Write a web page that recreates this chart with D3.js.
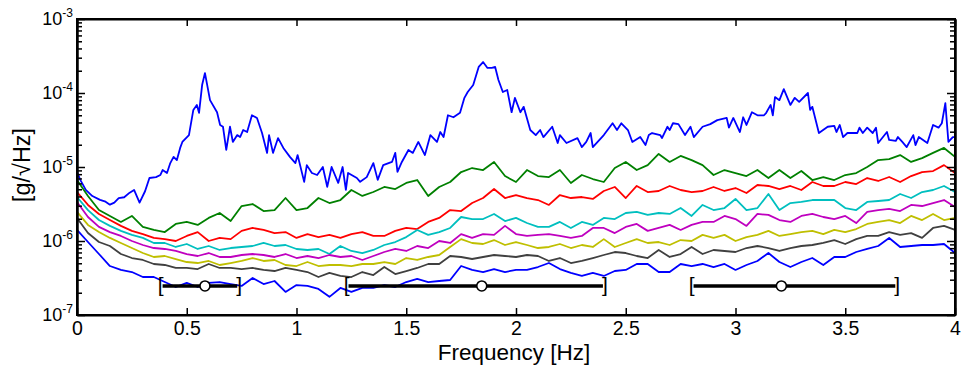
<!DOCTYPE html>
<html>
<head>
<meta charset="utf-8">
<script src="https://cdn.jsdelivr.net/npm/d3@7"></script>
<style>
  body { margin: 0; background: #fff; }
  svg { display: block; font-family: "Liberation Sans", Arial, sans-serif; }
</style>
</head>
<body>
<div id="chart"></div>
<script>
// amplitudes below are in units of 1e-6 g/sqrt(Hz)
const UNIT = 1e-6;

// shared frequency grid for the lower curves [Hz]
const freqGrid = [
  0, 0.05, 0.1, 0.15, 0.2, 0.25, 0.3, 0.35, 0.4, 0.45,
  0.5, 0.55, 0.6, 0.65, 0.7, 0.75, 0.8, 0.85, 0.9, 0.95,
  1, 1.05, 1.1, 1.15, 1.2, 1.25, 1.3, 1.35, 1.4, 1.45,
  1.5, 1.55, 1.6, 1.65, 1.7, 1.75, 1.8, 1.85, 1.9, 1.95,
  2, 2.05, 2.1, 2.15, 2.2, 2.25, 2.3, 2.35, 2.4, 2.45,
  2.5, 2.55, 2.6, 2.65, 2.7, 2.75, 2.8, 2.85, 2.9, 2.95,
  3, 3.05, 3.1, 3.15, 3.2, 3.25, 3.3, 3.35, 3.4, 3.45,
  3.5, 3.55, 3.6, 3.65, 3.7, 3.75, 3.8, 3.85, 3.9, 3.95,
  4
];

// top (blue) curve, read at its own frequencies
const topBlueFreq = [
  0, 0.015, 0.04, 0.07, 0.105, 0.13, 0.15, 0.17, 0.19, 0.215, 0.24, 0.26, 0.285, 0.31, 0.33, 0.36,
  0.38, 0.39, 0.41, 0.425, 0.44, 0.455, 0.47, 0.48, 0.51, 0.53, 0.546, 0.556, 0.57, 0.583, 0.606,
  0.638, 0.652, 0.665, 0.68, 0.697, 0.71, 0.73, 0.743, 0.757, 0.775, 0.797, 0.82, 0.843, 0.866,
  0.875, 0.893, 0.916, 0.94, 0.97, 0.995, 1.005, 1.035, 1.047, 1.07, 1.094, 1.12, 1.14, 1.16, 1.19,
  1.21, 1.225, 1.235, 1.275, 1.29, 1.32, 1.35, 1.37, 1.395, 1.435, 1.45, 1.46, 1.48, 1.51, 1.53,
  1.555, 1.585, 1.61, 1.64, 1.655, 1.67, 1.69, 1.715, 1.745, 1.765, 1.78, 1.805, 1.83, 1.85, 1.87,
  1.89, 1.905, 1.92, 1.94, 1.96, 1.98, 1.995, 2.02, 2.035, 2.065, 2.09, 2.11, 2.125, 2.165, 2.19,
  2.2, 2.23, 2.28, 2.3, 2.32, 2.34, 2.35, 2.4, 2.44, 2.46, 2.48, 2.51, 2.53, 2.566, 2.59, 2.605,
  2.62, 2.657, 2.665, 2.69, 2.7, 2.715, 2.74, 2.77, 2.795, 2.81, 2.85, 2.885, 2.917, 2.96, 2.97,
  2.99, 3.02, 3.035, 3.05, 3.075, 3.1, 3.13, 3.14, 3.16, 3.17, 3.18, 3.2, 3.22, 3.25, 3.27, 3.29,
  3.33, 3.34, 3.35, 3.38, 3.42, 3.45, 3.46, 3.475, 3.49, 3.51, 3.555, 3.565, 3.58, 3.6, 3.625,
  3.64, 3.65, 3.69, 3.7, 3.73, 3.74, 3.76, 3.78, 3.81, 3.82, 3.835, 3.874, 3.9, 3.925, 3.94,
  3.956, 3.97, 3.99, 4
];
const topBlueVal = [
  8.6, 6.7, 4.9, 4.05, 3.6, 3.4, 3.1, 3.3, 3.8, 3.9, 4.5, 4.9, 3.3, 4.7, 7.1, 7.3,
  7.8, 9.1, 8.3, 11.3, 13.7, 12.4, 18.1, 21.8, 27, 59, 69, 54, 128, 186, 80,
  55, 37, 35, 17, 35, 21.8, 27, 25.4, 31.6, 29.7, 50, 46, 28.8, 15.5,
  27, 15.5, 24.6, 18.1, 13.7, 11.3, 14.5, 6.3, 10.6, 8.3, 7.8, 10, 5.4, 10, 6.1,
  10, 4.9, 8.3, 7.1, 6.3, 7.3, 11.3, 6.7, 10.6, 11.7, 15.5, 8.6, 11.7, 17, 15.5,
  21.8, 14.5, 27, 21.8, 29.7, 25.4, 50, 47, 54, 86, 103, 128, 225, 262, 218,
  218, 225, 150, 103, 110, 55, 86, 55, 65, 31.6, 27, 31.6, 25.4, 35, 21.1,
  27, 21.1, 24.6, 18.6, 21.8, 28.8, 18.6, 27, 39, 31.6, 39, 31.6, 21.8, 25.4, 19.8, 27,
  28.8, 27, 24.6, 35, 31.6, 39, 38, 27, 35, 25.4, 35, 38, 43, 46, 34,
  46, 29.7, 47, 37, 55, 50, 50, 54, 69, 50, 88, 80, 113, 69, 86, 76,
  100, 59, 65, 28.8, 35, 36, 29.7, 37, 25.4, 28.8, 28.8, 34, 28.8, 34, 28.8,
  34, 21.1, 29.7, 23.2, 22.5, 25.4, 21.8, 18.6, 27, 19.8, 25.4, 21.1, 37, 34, 39,
  73, 21.8, 25.4, 25.4
];

const greenVal = [
  6.67, 4.06, 2.62, 2.18, 1.81, 2.18, 1.55, 1.41, 1.32, 1.70,
  1.81, 1.65, 2.05, 2.39, 1.86, 2.97, 3.16, 2.54, 2.62, 3.81,
  2.62, 2.79, 3.81, 3.26, 3.58, 4.89, 4.06, 4.59, 5.37, 5.04,
  6.08, 6.67, 4.06, 5.37, 6.27, 8.55, 9.69, 9.10, 11.7, 7.55,
  6.27, 9.10, 7.55, 7.32, 9.10, 6.08, 7.79, 6.88, 6.27, 9.69,
  11.7, 9.10, 10.6, 15.0, 11.7, 14.1, 12.4, 10.6, 7.79, 9.10,
  8.29, 7.55, 9.10, 7.10, 9.10, 7.10, 8.82, 6.67, 7.32, 6.67,
  7.79, 8.29, 10.0, 12.4, 12.8, 14.5, 11.7, 13.2, 15.5, 18.1,
  13.7
];
const redVal = [
  4.59, 3.07, 2.32, 1.92, 1.60, 1.37, 1.24, 1.10, 1.06, 1.00,
  1.17, 1.32, 1.00, 1.10, 1.06, 1.37, 1.50, 1.41, 1.28, 1.32,
  1.10, 1.24, 1.13, 1.21, 1.10, 1.24, 1.32, 1.17, 1.17, 1.37,
  1.50, 1.45, 1.81, 2.05, 2.62, 2.54, 3.26, 3.81, 5.04, 3.81,
  4.18, 3.81, 3.58, 3.07, 4.18, 3.81, 3.93, 3.70, 4.74, 5.37,
  3.81, 5.54, 4.59, 4.74, 5.54, 4.89, 4.59, 4.74, 5.37, 4.74,
  5.20, 4.45, 5.71, 5.54, 5.04, 5.54, 4.89, 6.27, 5.54, 5.54,
  6.27, 5.89, 7.10, 6.47, 7.32, 6.27, 7.55, 8.55, 8.82, 10.6,
  8.29
];
const cyanVal = [
  3.93, 2.62, 1.92, 1.60, 1.37, 1.21, 1.10, 0.940, 0.940, 0.830,
  0.911, 0.780, 0.856, 0.756, 0.804, 0.830, 0.856, 0.940, 0.856, 0.883,
  0.780, 0.756, 0.780, 0.667, 0.856, 0.733, 0.688, 0.756, 0.883, 0.969,
  1.13, 1.41, 1.21, 1.32, 1.50, 2.11, 1.98, 1.98, 2.32, 1.86,
  2.05, 1.75, 1.55, 1.55, 1.81, 1.50, 1.81, 1.65, 2.05, 1.98,
  2.39, 2.47, 2.25, 2.39, 2.32, 2.79, 2.18, 3.07, 2.62, 2.79,
  3.70, 2.62, 2.79, 4.32, 2.62, 3.26, 3.37, 3.58, 3.58, 3.58,
  2.79, 2.62, 3.37, 3.47, 3.58, 4.32, 3.81, 4.59, 4.89, 5.54,
  4.59
];
const magentaVal = [
  3.37, 2.11, 1.55, 1.32, 1.17, 1.00, 0.883, 0.804, 0.780, 0.733,
  0.667, 0.627, 0.688, 0.608, 0.608, 0.647, 0.667, 0.647, 0.608, 0.667,
  0.589, 0.627, 0.589, 0.647, 0.608, 0.627, 0.554, 0.627, 0.710, 0.780,
  0.733, 0.856, 0.804, 1.00, 0.940, 1.24, 1.10, 1.24, 1.21, 1.60,
  1.24, 1.17, 1.21, 1.24, 1.17, 1.10, 1.17, 1.50, 1.50, 1.28,
  1.55, 1.70, 1.37, 1.50, 1.65, 1.41, 1.65, 1.81, 1.81, 2.18,
  1.98, 1.60, 2.32, 2.25, 1.92, 1.81, 2.18, 2.32, 2.11, 1.98,
  2.18, 1.75, 2.47, 2.62, 2.71, 2.54, 3.07, 2.97, 3.26, 3.58,
  2.88
];
const oliveVal = [
  2.47, 1.65, 1.32, 1.10, 0.940, 0.804, 0.688, 0.608, 0.627, 0.571,
  0.520, 0.504, 0.537, 0.474, 0.504, 0.537, 0.589, 0.537, 0.554, 0.474,
  0.459, 0.520, 0.459, 0.474, 0.474, 0.459, 0.489, 0.489, 0.520, 0.489,
  0.589, 0.554, 0.608, 0.647, 0.830, 1.06, 0.940, 0.911, 1.03, 0.883,
  0.969, 0.883, 0.804, 0.830, 0.911, 0.804, 0.883, 0.830, 1.06, 0.830,
  0.940, 1.06, 0.940, 0.969, 0.883, 1.03, 1.00, 1.21, 1.10, 1.21,
  1.00, 1.13, 1.21, 1.37, 1.17, 1.24, 1.32, 1.37, 1.24, 1.41,
  1.32, 1.45, 1.70, 1.81, 1.92, 1.75, 2.18, 1.92, 2.32, 1.92,
  2.05
];
const grayVal = [
  2.05, 1.28, 0.969, 0.856, 0.667, 0.589, 0.554, 0.489, 0.474, 0.432,
  0.432, 0.418, 0.489, 0.432, 0.432, 0.418, 0.432, 0.406, 0.393, 0.432,
  0.406, 0.381, 0.326, 0.370, 0.337, 0.326, 0.381, 0.347, 0.445, 0.358,
  0.393, 0.432, 0.489, 0.489, 0.627, 0.608, 0.571, 0.608, 0.647, 0.627,
  0.608, 0.647, 0.627, 0.537, 0.589, 0.504, 0.537, 0.589, 0.647, 0.710,
  0.688, 0.627, 0.589, 0.756, 0.608, 0.667, 0.830, 0.667, 0.756, 0.733,
  0.710, 0.804, 0.856, 0.804, 0.733, 0.804, 0.856, 0.883, 0.940, 1.03,
  0.911, 1.06, 1.17, 1.17, 1.32, 1.21, 1.28, 1.10, 1.50, 1.60,
  1.41
];
const bottomBlueVal = [
  1.41, 0.969, 0.667, 0.459, 0.406, 0.381, 0.326, 0.326, 0.279, 0.239,
  0.271, 0.239, 0.271, 0.279, 0.262, 0.247, 0.316, 0.262, 0.288, 0.205,
  0.254, 0.247, 0.225, 0.176, 0.232, 0.205, 0.232, 0.232, 0.254, 0.239,
  0.279, 0.307, 0.279, 0.288, 0.297, 0.459, 0.406, 0.381, 0.418, 0.381,
  0.406, 0.406, 0.445, 0.504, 0.418, 0.370, 0.337, 0.370, 0.337, 0.393,
  0.406, 0.489, 0.489, 0.381, 0.381, 0.489, 0.459, 0.489, 0.445, 0.489,
  0.406, 0.474, 0.537, 0.688, 0.520, 0.445, 0.520, 0.589, 0.474, 0.608,
  0.608, 0.710, 0.780, 0.856, 1.10, 0.830, 0.856, 0.883, 0.883, 0.911,
  0.688
];

// interval markers: [low  o  high]
const barCenter = [0.583, 1.844, 3.209];
const barLow = [0.39, 1.237, 2.809];
const barHigh = [0.73, 2.396, 3.728];
const barLevel = 0.247; // same units as above

const width = 961, height = 373;
const plot = { left: 77, right: 955, top: 19, bottom: 315 };

const x = d3.scaleLinear().domain([0, 4]).range([plot.left, plot.right]);
const y = d3.scaleLog().domain([1e-7, 1e-3]).range([plot.bottom, plot.top]);

const series = [
  { freq: topBlueFreq, val: topBlueVal, color: "#0000ff" },
  { freq: freqGrid, val: greenVal, color: "#008000" },
  { freq: freqGrid, val: redVal, color: "#ff0000" },
  { freq: freqGrid, val: cyanVal, color: "#00bfbf" },
  { freq: freqGrid, val: magentaVal, color: "#bf00bf" },
  { freq: freqGrid, val: oliveVal, color: "#bfbf00" },
  { freq: freqGrid, val: grayVal, color: "#404040" },
  { freq: freqGrid, val: bottomBlueVal, color: "#0000ff" }
];

const svg = d3.select("#chart").append("svg")
  .attr("width", width)
  .attr("height", height);

const line = d3.line()
  .x(d => x(d[0]))
  .y(d => y(d[1] * UNIT));

svg.append("g")
  .selectAll("path")
  .data(series)
  .join("path")
  .attr("fill", "none")
  .attr("stroke", d => d.color)
  .attr("stroke-width", 1.8)
  .attr("stroke-linejoin", "round")
  .attr("d", d => line(d.freq.map((f, i) => [f, d.val[i]])));

// interval markers
const bars = svg.append("g");
const barY = y(barLevel * UNIT);
barCenter.forEach((c, i) => {
  bars.append("line")
    .attr("x1", x(barLow[i])).attr("x2", x(barHigh[i]))
    .attr("y1", barY).attr("y2", barY)
    .attr("stroke", "#000").attr("stroke-width", 3.5);
  bars.append("circle")
    .attr("cx", x(c)).attr("cy", barY).attr("r", 5)
    .attr("fill", "#fff").attr("stroke", "#000").attr("stroke-width", 1.6);
  bars.append("text")
    .attr("x", x(barLow[i]) + 1).attr("y", barY + 6.5)
    .attr("text-anchor", "end").attr("font-size", 21)
    .text("[");
  bars.append("text")
    .attr("x", x(barHigh[i]) - 1).attr("y", barY + 6.5)
    .attr("text-anchor", "start").attr("font-size", 21)
    .text("]");
});

// axes
const majors = [1e-7, 1e-6, 1e-5, 1e-4, 1e-3];
const minors = y.ticks().filter(t => !majors.some(m => Math.abs(t / m - 1) < 1e-6));

svg.append("g")
  .attr("transform", `translate(0,${plot.bottom})`)
  .call(d3.axisBottom(x).ticks(8).tickFormat(d => d)
    .tickSizeInner(-7).tickSizeOuter(0).tickPadding(6));

svg.append("g")
  .attr("transform", `translate(0,${plot.top})`)
  .call(d3.axisTop(x).ticks(8).tickFormat("")
    .tickSizeInner(-7).tickSizeOuter(0));

const gy = svg.append("g")
  .attr("transform", `translate(${plot.left},0)`)
  .call(d3.axisLeft(y).tickValues(majors)
    .tickSizeInner(-8).tickSizeOuter(0).tickPadding(4));

svg.append("g")
  .attr("transform", `translate(${plot.left},0)`)
  .call(d3.axisLeft(y).tickValues(minors).tickFormat("")
    .tickSizeInner(-5).tickSizeOuter(0));

svg.append("g")
  .attr("transform", `translate(${plot.right},0)`)
  .call(d3.axisRight(y).tickValues(majors).tickFormat("")
    .tickSizeInner(-8).tickSizeOuter(0));

svg.append("g")
  .attr("transform", `translate(${plot.right},0)`)
  .call(d3.axisRight(y).tickValues(minors).tickFormat("")
    .tickSizeInner(-5).tickSizeOuter(0));

svg.selectAll(".domain").attr("stroke", "#000").attr("stroke-width", 2);
svg.selectAll(".tick line").attr("stroke", "#000").attr("stroke-width", 1.5);
svg.selectAll(".tick text")
  .attr("font-size", 19.5)
  .attr("font-family", "Liberation Sans, Arial, sans-serif")
  .attr("fill", "#000");

gy.selectAll(".tick text").each(function(d) {
  const t = d3.select(this);
  t.text(null).attr("font-size", 18);
  t.append("tspan").text("10");
  t.append("tspan")
    .attr("font-size", 12)
    .attr("dy", "-0.68em")
    .text(Math.round(Math.log10(d)));
});

// frame
svg.append("rect")
  .attr("x", plot.left).attr("y", plot.top)
  .attr("width", plot.right - plot.left)
  .attr("height", plot.bottom - plot.top)
  .attr("fill", "none").attr("stroke", "#000").attr("stroke-width", 2);

// axis titles
svg.append("text")
  .attr("x", 514)
  .attr("y", 360)
  .attr("text-anchor", "middle")
  .attr("font-size", 22.5)
  .text("Frequency [Hz]");

svg.append("text")
  .attr("transform", `translate(30,${(plot.top + plot.bottom) / 2 - 2}) rotate(-90)`)
  .attr("text-anchor", "middle")
  .attr("font-size", 23.5)
  .text("[g/\u221AHz]");
</script>
</body>
</html>
